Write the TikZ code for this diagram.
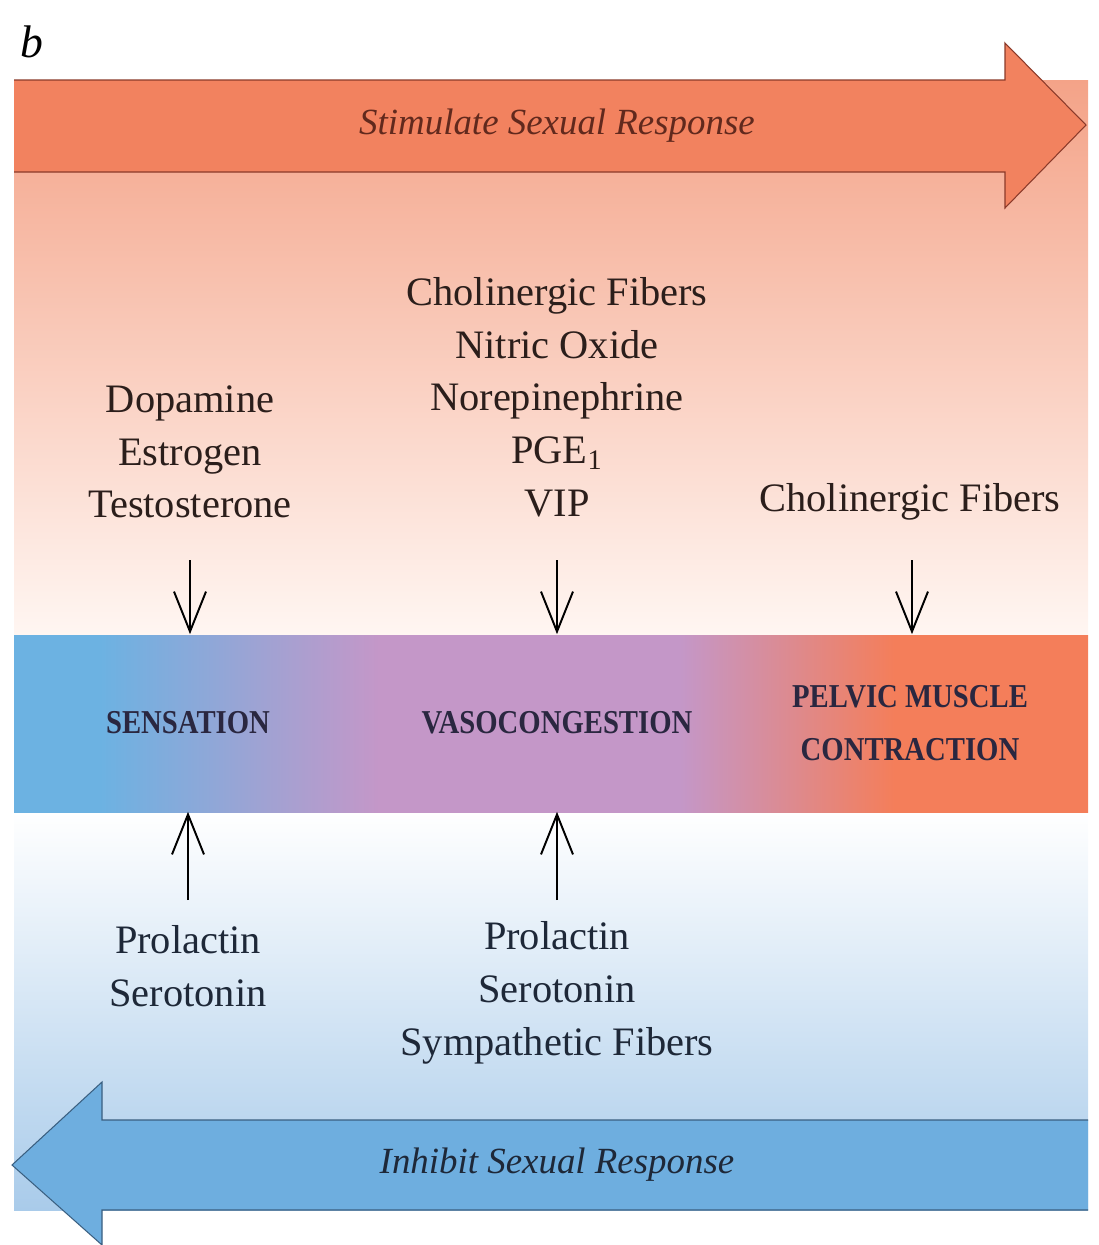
\documentclass[tikz,border=0pt]{standalone}
\usepackage{fontspec}
\setmainfont{Liberation Serif}
\newfontfamily\bandfont[FakeStretch=0.86]{Liberation Serif}
\usepackage{tikz}
\usetikzlibrary{arrows.meta}
\definecolor{stimfill}{HTML}{F2825F}
\definecolor{stimline}{HTML}{8B3A2A}
\definecolor{inhfill}{HTML}{6EAEDF}
\definecolor{inhline}{HTML}{3A5F80}
\definecolor{bandblue}{HTML}{6CB2E2}
\definecolor{bandpurple}{HTML}{C497C8}
\definecolor{bandorange}{HTML}{F47E5A}
\definecolor{topbg}{HTML}{F4A388}
\definecolor{topfade}{HTML}{FFF6F2}
\definecolor{botbg}{HTML}{A9CBEA}
\definecolor{inktop}{HTML}{2B1E1B}
\definecolor{inkbot}{HTML}{1E2838}
\definecolor{inkband}{HTML}{2A2740}
\pgfdeclarehorizontalshading{bandshade}{100bp}{color(0bp)=(bandblue); color(29bp)=(bandblue); color(42bp)=(bandpurple); color(56bp)=(bandpurple); color(66bp)=(bandorange); color(100bp)=(bandorange)}
\tikzset{
  agent/.style={align=center,inner sep=0pt,font=\fontsize{23pt}{30pt}\selectfont},
  bandlabel/.style={align=center,inner sep=0pt,minimum height=3.54cm,text=inkband,
    font=\bandfont\bfseries\fontsize{19pt}{30pt}\selectfont},
  sig/.style={line width=1.1pt,-{Straight Barb[length=8mm,width=6.4mm,line width=1.1pt]}},
  banner/.style={inner sep=0pt,font=\fontsize{21pt}{25pt}\selectfont\itshape}
}
\newcommand{\stimarrow}[2]{\draw[sig] (#1) -- (#1 |- #2.north);}
\newcommand{\inharrow}[2]{\draw[sig] (#1) -- (#1 |- #2.south);}

\begin{document}
\begin{tikzpicture}[x=0.02cm,y=-0.02cm]
        \useasboundingbox (0,0) rectangle (1099,1245);

        % backgrounds
        \shade[top color=topbg,bottom color=topfade] (14,80) rectangle (1088,635);
        \shade[top color=white,bottom color=botbg] (14,812) rectangle (1088,1210);
        \shade[shading=bandshade] (14,635) rectangle (1088,812);

        % stimulate arrow
        \fill[stimfill] (14,80) -- (1005,80) -- (1005,43) -- (1086,125) -- (1005,208) -- (1005,172) -- (14,172) -- cycle;
        \draw[stimline,line width=0.6pt] (14,80) -- (1005,80) -- (1005,43) -- (1086,125) -- (1005,208) -- (1005,172) -- (14,172);
        \node[banner,text=stimline!70!black] (stim) at (557,126) {Stimulate Sexual Response};

        % inhibit arrow
        \fill[inhfill] (1088,1120) -- (102,1120) -- (102,1082) -- (12,1165) -- (102,1245) -- (102,1210) -- (1088,1210) -- cycle;
        \draw[inhline,line width=0.6pt] (1088,1120) -- (102,1120) -- (102,1082) -- (12,1165) -- (102,1245) -- (102,1210) -- (1088,1210);
        \node[banner,text=inkbot] (inh) at (557,1165) {Inhibit Sexual Response};

        \node[inner sep=0pt,font=\fontsize{26pt}{26pt}\selectfont\itshape] (panel) at (32,42) {b};

        % band labels
        \node[bandlabel] (sens) at (188,723) {SENSATION};
        \node[bandlabel] (vaso) at (557,723) {VASOCONGESTION};
        \node[bandlabel] (pelv) at (910,723) {PELVIC MUSCLE\\CONTRACTION};

        % stimulating agents
        \node[agent,text=inktop] (stimA) at (190,452) {Dopamine\\Estrogen\\Testosterone};
        \node[agent,text=inktop] (stimB) at (557,397) {Cholinergic Fibers\\Nitric Oxide\\Norepinephrine\\PGE\textsubscript{1}\\VIP};
        \node[agent,text=inktop] (stimC) at (910,502) {Cholinergic Fibers};

        % inhibiting agents
        \node[agent,text=inkbot] (inhA) at (188,966) {Prolactin\\Serotonin};
        \node[agent,text=inkbot] (inhB) at (557,993) {Prolactin\\Serotonin\\Sympathetic Fibers};

        % arrows down
        \coordinate (inA) at (190,560);
        \coordinate (inB) at (557,560);
        \coordinate (inC) at (912,560);
        \stimarrow{inA}{sens}
        \stimarrow{inB}{vaso}
        \stimarrow{inC}{pelv}

        % arrows up
        \coordinate (outA) at (188,900);
        \coordinate (outB) at (557,900);
        \inharrow{outA}{sens}
        \inharrow{outB}{vaso}
\end{tikzpicture}
\end{document}
